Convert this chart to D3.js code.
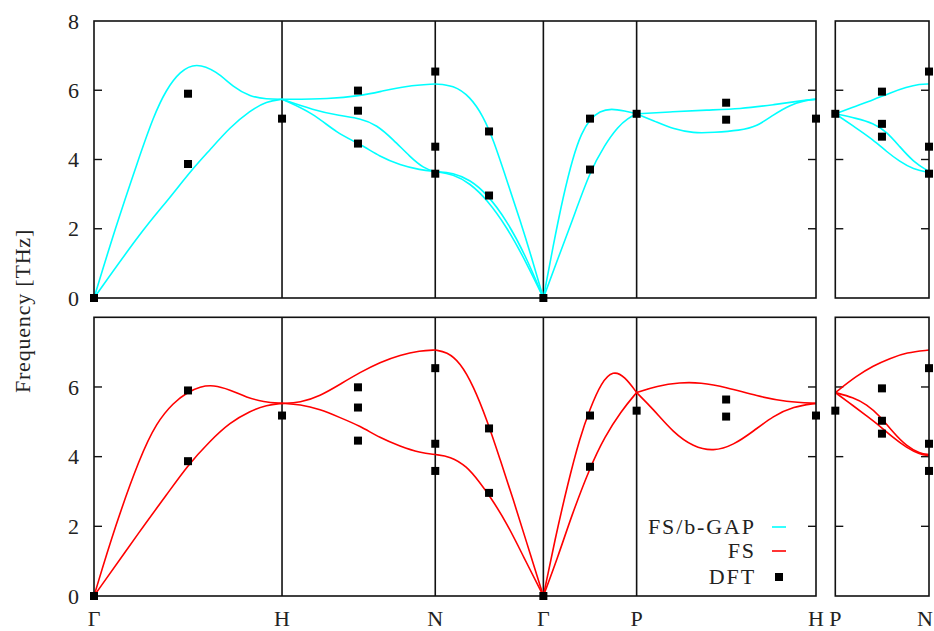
<!DOCTYPE html>
<html><head><meta charset="utf-8">
<script src="https://cdn.jsdelivr.net/npm/d3@7"></script>
<style>
html,body{margin:0;padding:0;background:#fff;}
text{font-family:"Liberation Serif","DejaVu Serif","Times New Roman",serif;font-size:22px;fill:#222;}
</style></head>
<body>
<svg id="chart" width="934" height="631"></svg>
<script>
// ---------- data ----------
const pathLabels = ["Γ","H","N","Γ","P","H"];
const pathTicks  = [0, 1.0, 1.815, 2.390, 2.886, 3.840];
const sideLabels = ["P","N"];
const sideTicks  = [0, 0.5];
const yTicksTop    = [0,2,4,6,8];
const yTicksBottom = [0,2,4,6];
const yTitle = "Frequency [THz]";
const legendNames = ["FS/b-GAP","FS","DFT"];

// FS/b-GAP branches (main path), [k, THz]
const gapMain = [
  [[0,0],[0.112,2.0],[0.236,4.0],[0.316,5.24],[0.383,6.01],[0.457,6.55],[0.543,6.80],[0.652,6.55],[0.741,6.09],[0.830,5.82],[0.918,5.74],[1.0,5.74]],
  [[0,0],[0.262,2.0],[0.387,2.78],[0.511,3.65],[0.617,4.28],[0.723,4.93],[0.830,5.41],[0.918,5.68],[1.0,5.74]],
  [[1.0,5.74],[1.255,5.75],[1.415,5.84],[1.521,5.96],[1.663,6.13],[1.815,6.18]],
  [[1.0,5.74],[1.166,5.43],[1.309,5.26],[1.415,5.19],[1.504,5.0],[1.592,4.57],[1.681,4.08],[1.752,3.75],[1.815,3.65]],
  [[1.0,5.74],[1.166,5.34],[1.291,4.76],[1.415,4.45],[1.521,4.08],[1.628,3.84],[1.734,3.70],[1.815,3.65]],
  [[1.815,6.18],[1.911,6.15],[2.0,5.82],[2.071,5.24],[2.124,4.57],[2.195,3.41],[2.266,2.25],[2.337,1.0],[2.390,0]],
  [[1.815,3.65],[1.911,3.62],[2.0,3.41],[2.089,3.01],[2.195,2.25],[2.302,1.15],[2.390,0]],
  [[1.815,3.65],[1.911,3.58],[2.0,3.31],[2.089,2.85],[2.195,2.06],[2.302,1.0],[2.390,0]],
  [[2.390,0],[2.441,1.48],[2.495,2.93],[2.548,4.08],[2.592,4.76],[2.637,5.16],[2.690,5.40],[2.752,5.47],[2.823,5.40],[2.886,5.32]],
  [[2.390,0],[2.468,1.15],[2.539,2.16],[2.637,3.65],[2.716,4.42],[2.787,4.95],[2.840,5.19],[2.886,5.32]],
  [[2.886,5.32],[3.081,5.38],[3.259,5.43],[3.436,5.46],[3.613,5.58],[3.791,5.72],[3.840,5.74]],
  [[2.886,5.32],[2.993,5.08],[3.081,4.88],[3.188,4.76],[3.294,4.78],[3.436,4.84],[3.525,4.95],[3.613,5.29],[3.702,5.58],[3.791,5.72],[3.840,5.74]]
];
// FS/b-GAP branches (P-N side panel)
const gapSide = [
  [[0,5.32],[0.114,5.55],[0.202,5.72],[0.291,5.92],[0.380,6.09],[0.451,6.18],[0.5,6.18]],
  [[0,5.32],[0.114,5.19],[0.202,5.05],[0.273,4.81],[0.344,4.37],[0.415,3.94],[0.5,3.65]],
  [[0,5.32],[0.114,4.90],[0.202,4.57],[0.273,4.23],[0.344,3.94],[0.415,3.72],[0.5,3.62]]
];
// FS branches (main path)
const fsMain = [
  [[0,0],[0.112,2.0],[0.245,4.0],[0.333,4.98],[0.422,5.55],[0.498,5.85],[0.564,6.01],[0.635,6.06],[0.723,5.92],[0.812,5.70],[0.901,5.57],[1.0,5.53]],
  [[0,0],[0.262,2.0],[0.387,2.91],[0.498,3.75],[0.617,4.45],[0.723,4.98],[0.830,5.31],[0.918,5.48],[1.0,5.53]],
  [[1.0,5.53],[1.096,5.55],[1.202,5.74],[1.309,6.08],[1.415,6.42],[1.521,6.71],[1.628,6.92],[1.734,7.04],[1.815,7.06]],
  [[1.0,5.53],[1.096,5.50],[1.202,5.36],[1.309,5.12],[1.415,4.88],[1.521,4.54],[1.628,4.30],[1.734,4.11],[1.815,4.06]],
  [[1.815,7.06],[1.876,7.01],[1.947,6.71],[2.018,6.03],[2.089,5.07],[2.160,3.92],[2.230,2.77],[2.302,1.52],[2.390,0]],
  [[1.815,4.06],[1.894,4.01],[1.982,3.73],[2.053,3.25],[2.106,2.86],[2.195,2.10],[2.284,1.13],[2.390,0]],
  [[2.390,0],[2.451,1.61],[2.521,3.25],[2.584,4.54],[2.637,5.36],[2.698,6.13],[2.761,6.48],[2.823,6.30],[2.886,5.84]],
  [[2.390,0],[2.468,1.13],[2.539,2.29],[2.637,3.68],[2.716,4.57],[2.804,5.31],[2.886,5.84]],
  [[2.886,5.84],[2.993,6.03],[3.117,6.13],[3.223,6.13],[3.365,5.99],[3.525,5.74],[3.684,5.57],[3.840,5.53]],
  [[2.886,5.84],[2.975,5.36],[3.081,4.69],[3.188,4.28],[3.294,4.15],[3.401,4.33],[3.507,4.73],[3.613,5.17],[3.720,5.44],[3.840,5.53]]
];
// FS branches (P-N side panel)
const fsSide = [
  [[0,5.84],[0.114,6.32],[0.202,6.61],[0.291,6.82],[0.380,6.99],[0.5,7.06]],
  [[0,5.84],[0.096,5.70],[0.167,5.50],[0.238,5.17],[0.309,4.69],[0.380,4.30],[0.451,4.09],[0.5,4.06]],
  [[0,5.84],[0.096,5.46],[0.167,5.17],[0.238,4.88],[0.309,4.54],[0.380,4.26],[0.451,4.06],[0.5,4.03]]
];
// DFT reference points
const dftMain = [
  [0,0],[0.5,5.90],[0.5,3.87],[1.0,5.18],
  [1.404,5.99],[1.404,5.41],[1.404,4.46],
  [1.815,6.54],[1.815,4.37],[1.815,3.59],
  [2.101,4.81],[2.101,2.96],[2.390,0],
  [2.638,5.18],[2.638,3.71],[2.886,5.32],
  [3.362,5.64],[3.362,5.15],[3.840,5.18]
];
const dftSide = [
  [0,5.32],[0.249,5.96],[0.249,5.03],[0.249,4.66],[0.5,6.54],[0.5,4.37],[0.5,3.59]
];

// ---------- layout ----------
const FONT = "Liberation Serif, DejaVu Serif, serif";
const svg = d3.select("#chart");
const mainX = d3.scaleLinear().domain([0, 3.840]).range([94, 816]);
const sideX = d3.scaleLinear().domain([0, 0.5]).range([835.3, 929]);
const panels = [
  {y: d3.scaleLinear().domain([0,8]).range([298, 21]), ticks: yTicksTop, main: gapMain, side: gapSide, color: "#00ffff"},
  {y: d3.scaleLinear().domain([0,8]).range([596, 317.3]), ticks: yTicksBottom, main: fsMain, side: fsSide, color: "#ff0000"}
];
const tickLen = 8;
const ink = "#111";
const curve = d3.curveBasis;

panels.forEach((p, pi) => {
  const g = svg.append("g");
  const y = p.y;
  const [yb, yt] = y.range();
  g.selectAll("line.v").data(pathTicks.slice(1, -1)).join("line")
    .attr("x1", d => mainX(d)).attr("x2", d => mainX(d))
    .attr("y1", yt).attr("y2", yb).attr("stroke", ink).attr("stroke-width", 1.6);
  const tickVals = [2,4,6];
  [[mainX.range()[0], 1],[mainX.range()[1], -1],[sideX.range()[0], 1],[sideX.range()[1], -1]].forEach(([xx, dir]) => {
    g.selectAll(null).data(tickVals).join("line")
      .attr("x1", xx).attr("x2", xx + dir * tickLen)
      .attr("y1", d => y(d)).attr("y2", d => y(d))
      .attr("stroke", ink).attr("stroke-width", 1.4);
  });
  g.selectAll("text.yt").data(p.ticks).join("text")
    .attr("x", 79).attr("y", d => y(d)).attr("dy", "0.35em")
    .attr("font-family", FONT).attr("font-size", 22)
    .attr("text-anchor", "end").text(d => d);

  const lineMain = d3.line().x(d => mainX(d[0])).y(d => y(d[1])).curve(curve);
  const lineSide = d3.line().x(d => sideX(d[0])).y(d => y(d[1])).curve(curve);
  g.selectAll(null).data(p.main).join("path")
    .attr("d", lineMain).attr("fill", "none").attr("stroke", p.color).attr("stroke-width", 1.6);
  g.selectAll(null).data(p.side).join("path")
    .attr("d", lineSide).attr("fill", "none").attr("stroke", p.color).attr("stroke-width", 1.6);

  g.append("rect").attr("x", mainX.range()[0]).attr("y", yt)
    .attr("width", mainX.range()[1] - mainX.range()[0]).attr("height", yb - yt)
    .attr("fill", "none").attr("stroke", ink).attr("stroke-width", 1.6);
  g.append("rect").attr("x", sideX.range()[0]).attr("y", yt)
    .attr("width", sideX.range()[1] - sideX.range()[0]).attr("height", yb - yt)
    .attr("fill", "none").attr("stroke", ink).attr("stroke-width", 1.6);

  const s = 8;
  g.selectAll(null).data(dftMain).join("rect")
    .attr("x", d => mainX(d[0]) - s/2).attr("y", d => y(d[1]) - s/2)
    .attr("width", s).attr("height", s).attr("fill", "#000");
  g.selectAll(null).data(dftSide).join("rect")
    .attr("x", d => sideX(d[0]) - s/2).attr("y", d => y(d[1]) - s/2)
    .attr("width", s).attr("height", s).attr("fill", "#000");
});

const xl = svg.append("g").attr("font-family", FONT).attr("font-size", 22);
xl.selectAll(null).data(pathTicks).join("text")
  .attr("x", d => mainX(d)).attr("y", 626).attr("text-anchor", "middle")
  .text((d, i) => pathLabels[i]);
xl.selectAll(null).data(sideTicks).join("text")
  .attr("x", (d, i) => sideX(d) - (i === sideTicks.length - 1 ? 4 : 0)).attr("y", 626).attr("text-anchor", "middle")
  .text((d, i) => sideLabels[i]);

svg.append("text")
  .attr("transform", "translate(30,311) rotate(-90)")
  .attr("font-family", FONT).attr("font-size", 22).style("letter-spacing", "0.8px")
  .attr("text-anchor", "middle").text(yTitle);

const lg = svg.append("g").attr("font-family", FONT).attr("font-size", 22);
const legY = [527, 551, 577];
lg.selectAll(null).data(legendNames).join("text")
  .attr("x", 756).attr("y", (d, i) => legY[i]).attr("dy", "0.33em")
  .style("letter-spacing", "1.9px")
  .attr("text-anchor", "end").text(d => d);
lg.append("line").attr("x1", 772).attr("x2", 786).attr("y1", legY[0]).attr("y2", legY[0])
  .attr("stroke", "#00ffff").attr("stroke-width", 1.6);
lg.append("line").attr("x1", 772).attr("x2", 786).attr("y1", legY[1]).attr("y2", legY[1])
  .attr("stroke", "#ff0000").attr("stroke-width", 1.6);
lg.append("rect").attr("x", 779 - 4).attr("y", legY[2] - 4).attr("width", 8).attr("height", 8).attr("fill", "#000");
</script>
</body></html>
